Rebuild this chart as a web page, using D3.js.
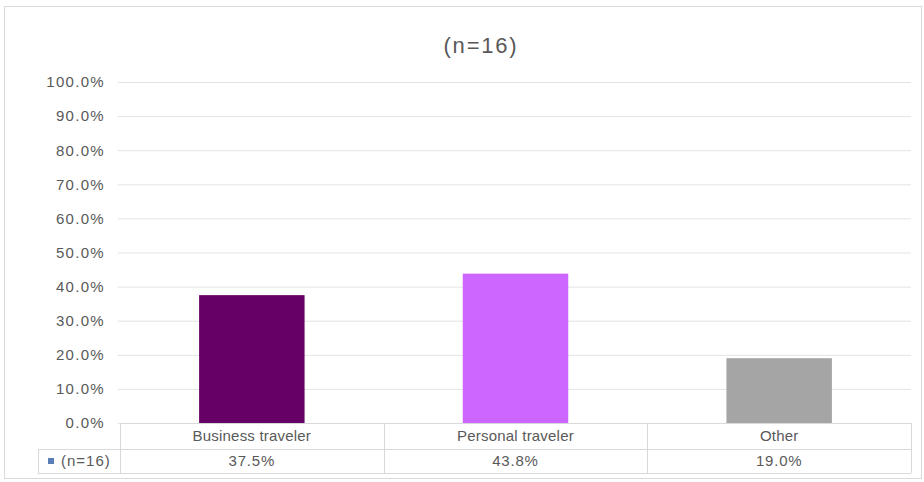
<!DOCTYPE html>
<html>
<head>
<meta charset="utf-8">
<script src="https://cdn.jsdelivr.net/npm/d3@7"></script>
<style>
  html, body { margin: 0; padding: 0; background: #fff; }
  svg { display: block; }
  text { font-family: "Liberation Sans", Arial, sans-serif; fill: #595959; }
</style>
</head>
<body>
<svg id="chart" width="924" height="482"></svg>
<script>
const categories = ["Business traveler", "Personal traveler", "Other"];
const values = [0.375, 0.438, 0.19];
const valueLabels = ["37.5%", "43.8%", "19.0%"];
const barColors = ["#660066", "#CC66FF", "#A5A5A5"];
const seriesName = "(n=16)";
const title = "(n=16)";
const yTicks = [0, 0.1, 0.2, 0.3, 0.4, 0.5, 0.6, 0.7, 0.8, 0.9, 1.0];

(function () {
const svg = d3.select("#chart");

// outer chart border
svg.append("rect").attr("x", 4.5).attr("y", 6.5).attr("width", 917).attr("height", 472)
  .attr("fill", "#fff").attr("stroke", "#d9d9d9").attr("stroke-width", 1);

const pLeft = 120, pRight = 911, pTop = 82, pBottom = 423;
const rowH1 = 26, rowH2 = 24;

const x = d3.scaleBand().domain(categories).range([pLeft, pRight]).padding(0);
const y = d3.scaleLinear().domain([0, 1]).range([pBottom, pTop]);

// title
svg.append("text").attr("x", 481).attr("y", 53).attr("text-anchor", "middle")
  .style("font-size", "22px").style("letter-spacing", "1.8px").text(title);

// gridlines + y axis
const yAxis = d3.axisLeft(y).tickValues(yTicks).tickFormat(d3.format(".1%"))
  .tickSize(-(pRight - pLeft + 2)).tickPadding(13);
const gy = svg.append("g").attr("transform", `translate(${pLeft - 2},0)`).call(yAxis);
gy.select(".domain").remove();
gy.selectAll(".tick line").attr("stroke", "#e3e3e3").attr("stroke-width", 1);
gy.selectAll(".tick text").style("font-size", "15px").style("fill", "#595959")
  .style("letter-spacing", "1.3px")
  .style("font-family", "Liberation Sans, Arial, sans-serif");

// bars
const barW = x.bandwidth() * 0.4;
svg.append("g").selectAll("rect").data(categories).join("rect")
  .attr("x", d => x(d) + (x.bandwidth() - barW) / 2)
  .attr("y", (d, i) => y(values[i]))
  .attr("width", barW)
  .attr("height", (d, i) => y(0) - y(values[i]))
  .attr("fill", (d, i) => barColors[i]);

// data table
const tbl = svg.append("g").attr("stroke", "#d9d9d9").attr("stroke-width", 1).attr("fill", "none");
const yMid = pBottom + rowH1, yBot = pBottom + rowH1 + rowH2;
tbl.append("line").attr("x1", pLeft).attr("x2", pRight).attr("y1", pBottom + 0.5).attr("y2", pBottom + 0.5);
tbl.append("line").attr("x1", 38).attr("x2", pRight).attr("y1", yMid + 0.5).attr("y2", yMid + 0.5);
tbl.append("line").attr("x1", 38).attr("x2", pRight).attr("y1", yBot + 0.5).attr("y2", yBot + 0.5);
tbl.append("line").attr("x1", 38.5).attr("x2", 38.5).attr("y1", yMid).attr("y2", yBot);
const colEdges = categories.map(c => x(c)).concat([pRight]);
tbl.selectAll("line.v").data(colEdges).join("line").attr("class", "v")
  .attr("x1", d => Math.round(d) + 0.5).attr("x2", d => Math.round(d) + 0.5)
  .attr("y1", pBottom).attr("y2", yBot);

svg.append("g").selectAll("text").data(categories).join("text")
  .attr("x", d => x(d) + x.bandwidth() / 2).attr("y", pBottom + rowH1 / 2 + 5)
  .attr("text-anchor", "middle").style("font-size", "15px").style("letter-spacing", "0.2px").text(d => d);
svg.append("g").selectAll("text").data(categories).join("text")
  .attr("x", d => x(d) + x.bandwidth() / 2).attr("y", yMid + rowH2 / 2 + 5)
  .attr("text-anchor", "middle").style("font-size", "15px").style("letter-spacing", "0.8px")
  .text((d, i) => valueLabels[i]);

// legend key
svg.append("rect").attr("x", 48).attr("y", yMid + rowH2 / 2 - 3).attr("width", 6).attr("height", 6)
  .attr("fill", "#5B7DB8");
svg.append("text").attr("x", 61).attr("y", yMid + rowH2 / 2 + 5).style("font-size", "15px")
  .style("letter-spacing", "1px").text(seriesName);
})();
</script>
</body>
</html>
